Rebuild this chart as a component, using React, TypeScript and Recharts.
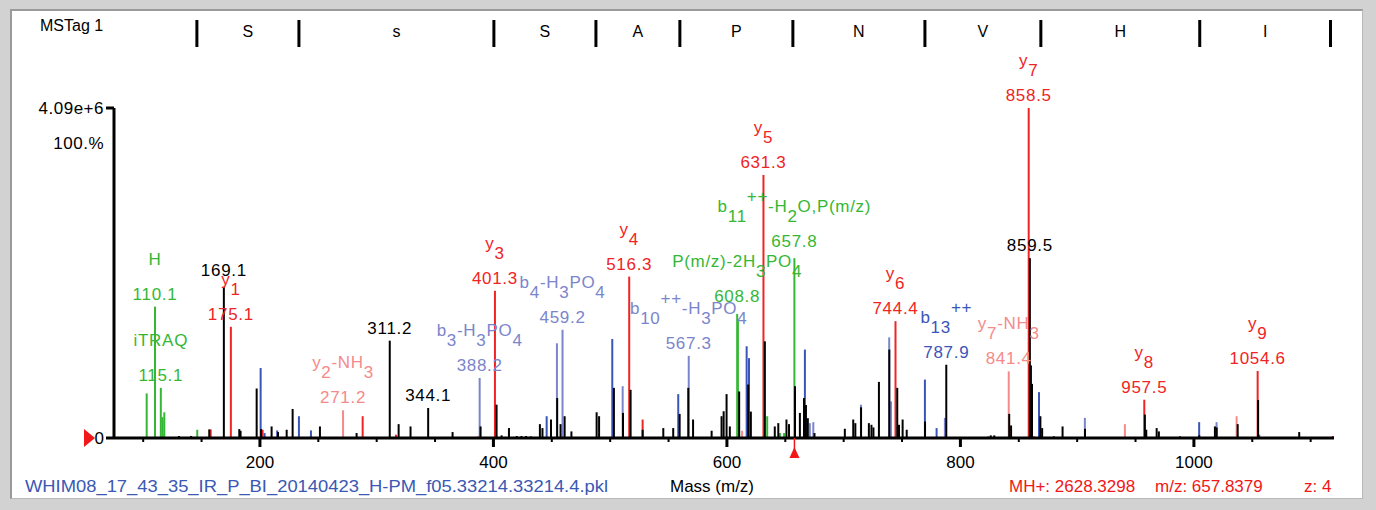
import React from "react";
import {
  ComposedChart,
  Scatter,
  XAxis,
  YAxis,
  ErrorBar,
  ReferenceDot,
} from "recharts";

const FONT = "'Liberation Sans', Arial, Helvetica, sans-serif";
const MZ_DOMAIN: [number, number] = [75, 1120];
const PRECURSOR_MZ = 657.8379;

const COLORS: Record<string, string> = {
  peak: "#000000",
  y: "#f02424",
  yNH3: "#f58a8a",
  bH3PO4: "#7b85cb",
  b: "#3a55b8",
  green: "#35b735",
};

// [m/z, relative intensity %]
const blackPeaks: [number, number][] = [
  [130.6, 0.6], [141.0, 0.6], [156.6, 2.6], [169.1, 45.8], [182.3, 2.7], [183.4, 2.2],
  [197.2, 15.0], [201.0, 2.7], [210.0, 3.5], [215.5, 1.8], [222.9, 2.5], [228.0, 8.8],
  [251.4, 3.5], [282.8, 1.5], [311.2, 29.5], [318.8, 4.2], [329.0, 3.5], [344.1, 9.1],
  [365.0, 1.8], [389.0, 3.5], [402.7, 10.1], [407.0, 0.8], [413.3, 3.0], [420.0, 0.6],
  [424.0, 0.6], [428.0, 0.6], [432.0, 0.5], [439.8, 4.2], [442.0, 3.0], [449.3, 5.6],
  [454.6, 12.1], [457.5, 4.2], [461.0, 6.6], [466.8, 2.0], [488.4, 7.8], [490.5, 6.6],
  [503.2, 15.2], [511.0, 7.6], [517.5, 14.6], [527.8, 2.5], [545.5, 3.0], [554.0, 3.0],
  [559.5, 7.3], [566.9, 15.2], [571.0, 5.6], [586.9, 2.2], [595.4, 6.6], [597.2, 8.1],
  [599.7, 13.3], [602.5, 3.5], [610.5, 14.1], [618.2, 16.2], [620.5, 8.0], [632.5, 29.3],
  [641.0, 3.5], [644.0, 4.5], [651.0, 5.6], [653.2, 4.2], [658.3, 15.7], [662.5, 7.6],
  [666.0, 12.1], [667.7, 10.0], [669.3, 6.0], [675.0, 1.5], [701.0, 2.8], [708.2, 5.6],
  [710.0, 4.5], [714.9, 9.3], [721.6, 4.5], [723.8, 4.0], [725.5, 3.2], [730.2, 17.0],
  [739.1, 26.8], [745.9, 15.2], [747.4, 4.0], [750.5, 5.6], [754.0, 2.5], [769.7, 5.0],
  [787.9, 22.2], [826.0, 0.8], [829.0, 0.8], [841.8, 7.3], [843.4, 3.8], [859.5, 54.5],
  [860.4, 22.0], [861.3, 16.4], [868.5, 6.6], [870.0, 3.0], [880.0, 0.5], [887.5, 3.5],
  [906.7, 2.8], [958.0, 7.1], [959.2, 2.5], [968.1, 3.0], [970.0, 2.0], [988.0, 0.5],
  [1004.6, 0.8], [1018.0, 3.5], [1019.5, 3.2], [1037.5, 4.2], [1055.0, 11.5], [1090.2, 1.8],
];

const yPeaks: [number, number][] = [
  [157.8, 2.6], [175.1, 33.7], [202.3, 2.5], [288.0, 6.6], [316.5, 1.0], [401.3, 44.6],
  [516.3, 48.9], [527.8, 5.6], [631.3, 79.7], [744.4, 35.4], [858.5, 100], [957.5, 11.6],
  [1054.6, 20.3], [1119.0, 0.6],
];

const yNH3Peaks: [number, number][] = [
  [271.2, 8.4], [387.0, 0.6], [613.0, 2.2], [841.4, 20.2], [863.0, 0.6], [940.9, 4.2],
  [1036.6, 6.6],
];

const bH3PO4Peaks: [number, number][] = [
  [388.2, 18.2], [454.4, 28.7], [459.2, 32.8], [510.7, 15.7], [567.3, 24.9], [671.0, 4.5],
  [674.0, 4.8], [714.8, 10.1], [739.0, 30.5], [740.5, 11.1], [786.7, 6.1], [906.6, 6.1],
  [1019.4, 4.8],
];

const bPeaks: [number, number][] = [
  [200.6, 21.2], [204.0, 1.5], [214.8, 2.3], [233.4, 6.6], [243.7, 2.3], [445.6, 6.6],
  [501.8, 30.0], [558.3, 13.3], [616.9, 27.8], [618.9, 24.2], [666.8, 26.8], [769.6, 17.7],
  [779.6, 3.0], [824.0, 0.5], [867.3, 13.9], [1004.5, 4.8], [1056.0, 1.0],
];

const greenPeaks: [number, number][] = [
  [103.0, 13.5], [110.1, 39.8], [115.1, 15.2], [116.6, 6.3], [118.1, 7.8], [146.3, 2.5],
  [608.8, 37.6], [609.4, 36.0], [634.5, 6.6], [645.4, 1.5], [649.0, 1.5], [657.8, 54.5],
];

// annotated peaks; "_" = subscript, "^" = superscript
const ionLabels = [
  { mz: 110.1, h: 39.8, kind: "green", name: ["H"], value: "110.1" },
  { mz: 115.1, h: 15.2, kind: "green", name: ["iTRAQ"], value: "115.1" },
  { mz: 169.1, h: 45.8, kind: "peak", name: [], value: "169.1" },
  { mz: 175.1, h: 33.7, kind: "y", name: ["y", "_1"], value: "175.1" },
  { mz: 271.2, h: 8.4, kind: "yNH3", name: ["y", "_2", "-NH", "_3"], value: "271.2" },
  { mz: 311.2, h: 29.5, kind: "peak", name: [], value: "311.2" },
  { mz: 344.1, h: 9.1, kind: "peak", name: [], value: "344.1" },
  { mz: 388.2, h: 18.2, kind: "bH3PO4", name: ["b", "_3", "-H", "_3", "PO", "_4"], value: "388.2" },
  { mz: 401.3, h: 44.6, kind: "y", name: ["y", "_3"], value: "401.3" },
  { mz: 459.2, h: 32.8, kind: "bH3PO4", name: ["b", "_4", "-H", "_3", "PO", "_4"], value: "459.2" },
  { mz: 516.3, h: 48.9, kind: "y", name: ["y", "_4"], value: "516.3" },
  { mz: 567.3, h: 24.9, kind: "bH3PO4", name: ["b", "_10", "^++", "-H", "_3", "PO", "_4"], value: "567.3" },
  { mz: 608.8, h: 37.6, kind: "green", name: ["P(m/z)-2H", "_3", "PO", "_4"], value: "608.8" },
  { mz: 631.3, h: 79.7, kind: "y", name: ["y", "_5"], value: "631.3" },
  { mz: 657.8, h: 54.5, kind: "green", name: ["b", "_11", "^++", "-H", "_2", "O,P(m/z)"], value: "657.8" },
  { mz: 744.4, h: 35.4, kind: "y", name: ["y", "_6"], value: "744.4" },
  { mz: 787.9, h: 22.2, kind: "b", name: ["b", "_13", "^++"], value: "787.9" },
  { mz: 841.4, h: 20.2, kind: "yNH3", name: ["y", "_7", "-NH", "_3"], value: "841.4" },
  { mz: 858.5, h: 100, kind: "y", name: ["y", "_7"], value: "858.5" },
  { mz: 859.5, h: 54.5, kind: "peak", name: [], value: "859.5" },
  { mz: 957.5, h: 11.6, kind: "y", name: ["y", "_8"], value: "957.5" },
  { mz: 1054.6, h: 20.3, kind: "y", name: ["y", "_9"], value: "1054.6" },
];

// extra lift (px) for crowded labels
const labelLift: Record<string, number> = { "169.1": 4, "608.8": 5, "657.8": 4 };

// fragment ladder along the top
const ladderMz = [146, 233.4, 400.4, 487.8, 559.7, 656.5, 769.6, 868.9, 1005, 1117];
const ladderResidues = ["S", "s", "S", "A", "P", "N", "V", "H", "I"];

const xTicks = Array.from({ length: 21 }, (_, i) => 100 + i * 50);

const sticks = (peaks: [number, number][]) =>
  peaks.map(([mz, h]) => ({ mz, h, err: [h, 0] }));

const stickSeries = [
  { kind: "bH3PO4", data: sticks(bH3PO4Peaks) },
  { kind: "b", data: sticks(bPeaks) },
  { kind: "yNH3", data: sticks(yNH3Peaks) },
  { kind: "green", data: sticks(greenPeaks) },
  { kind: "y", data: sticks(yPeaks) },
  { kind: "peak", data: sticks(blackPeaks) },
];

const ladderData = ladderMz.map((mz) => ({ mz, y: 0.5 }));
const residueData = ladderResidues.map((r, i) => ({
  mz: (ladderMz[i] + ladderMz[i + 1]) / 2,
  y: 0.5,
  r,
}));

const Empty = () => <g />;

const nameSpans = (parts: string[]) => {
  let level = 0;
  return parts.map((p, i) => {
    let target = 0;
    let t = p;
    if (p[0] === "_") {
      target = 10;
      t = p.slice(1);
    } else if (p[0] === "^") {
      target = -10;
      t = p.slice(1);
    }
    const dy = target - level;
    level = target;
    return (
      <tspan key={i} dy={dy}>
        {t}
      </tspan>
    );
  });
};

const PeakLabel = (props: any) => {
  const { cx, cy, payload } = props;
  const color = COLORS[payload.kind];
  const lift = labelLift[payload.value] || 0;
  return (
    <g fontFamily={FONT} fontSize={17} fill={color} letterSpacing={0.7}>
      {payload.name.length > 0 && (
        <text x={cx} y={cy - 42 - lift} textAnchor="middle">
          {nameSpans(payload.name)}
        </text>
      )}
      <text x={cx} y={cy - 7 - lift} textAnchor="middle">
        {payload.value}
      </text>
    </g>
  );
};

const XTick = (props: any) => {
  const { x, y, payload } = props;
  const major = payload.value % 200 === 0;
  return (
    <g>
      <line x1={x} y1={y} x2={x} y2={y + (major ? 9 : 4)} stroke="#000" strokeWidth={major ? 3 : 2} />
      {major && (
        <text x={x} y={y + 30} textAnchor="middle" fontSize={17} fontFamily={FONT} fill="#000">
          {payload.value}
        </text>
      )}
    </g>
  );
};

const YTick = (props: any) => {
  const { x, y, payload } = props;
  if (payload.value === 100) {
    return (
      <g fontSize={17} fontFamily={FONT} fill="#000" letterSpacing={0.5}>
        <line x1={x - 8} y1={y} x2={x} y2={y} stroke="#000" strokeWidth={3} />
        <text x={x - 10} y={y + 6} textAnchor="end">4.09e+6</text>
        <text x={x - 10} y={y + 41} textAnchor="end">100.%</text>
      </g>
    );
  }
  return (
    <g fontSize={17} fontFamily={FONT} fill="#000">
      <line x1={x - 8} y1={y} x2={x} y2={y} stroke="#000" strokeWidth={3} />
      <text x={x - 10} y={y + 6} textAnchor="end">0</text>
      <polygon points={`${x - 30},${y - 9} ${x - 30},${y + 9} ${x - 19},${y}`} fill="#f01818" />
    </g>
  );
};

const PrecursorMark = (props: any) => {
  const { cx, cy } = props;
  return (
    <g>
      <line x1={cx} y1={cy} x2={cx} y2={cy + 12} stroke="#f01818" strokeWidth={1.5} />
      <polygon points={`${cx - 5},${cy + 20} ${cx + 5},${cy + 20} ${cx},${cy + 9}`} fill="#f01818" />
    </g>
  );
};

const LadderBar = (props: any) => {
  const { cx, cy } = props;
  return <line x1={cx} y1={cy - 13} x2={cx} y2={cy + 14} stroke="#000" strokeWidth={3} />;
};

const ResidueLetter = (props: any) => {
  const { cx, cy, payload } = props;
  return (
    <text x={cx} y={cy + 4} textAnchor="middle" fontSize={16} fontFamily={FONT} fill="#000">
      {payload.r}
    </text>
  );
};

export default function App() {
  return (
    <div
      style={{
        position: "absolute",
        left: 0,
        top: 0,
        width: 1376,
        height: 510,
        background: "#d2d2d2",
        overflow: "hidden",
        fontFamily: FONT,
      }}
    >
      <div
        style={{
          position: "absolute",
          left: 10,
          top: 9,
          width: 1353,
          height: 490,
          boxSizing: "border-box",
          background: "#fff",
          borderTop: "2px solid #9a9a9a",
          borderLeft: "2px solid #9a9a9a",
          borderRight: "1px solid #b8b8b8",
          borderBottom: "1px solid #b8b8b8",
        }}
      />
      <div style={{ position: "absolute", left: 0, top: 8 }}>
        <ComposedChart width={1376} height={50} margin={{ top: 0, right: 42, bottom: 0, left: 114 }}>
          <XAxis type="number" dataKey="mz" domain={MZ_DOMAIN} hide />
          <YAxis type="number" dataKey="y" domain={[0, 1]} hide />
          <Scatter data={ladderData} shape={LadderBar} isAnimationActive={false} />
          <Scatter data={residueData} shape={ResidueLetter} isAnimationActive={false} />
        </ComposedChart>
      </div>
      <div style={{ position: "absolute", left: 0, top: 0 }}>
        <ComposedChart width={1376} height={510} margin={{ top: 108, right: 42, bottom: 0, left: 113 }}>
          <XAxis
            type="number"
            dataKey="mz"
            domain={MZ_DOMAIN}
            ticks={xTicks}
            interval={0}
            height={72}
            tickSize={0}
            tickMargin={0}
            tickLine={false}
            tick={XTick}
            axisLine={{ stroke: "#000", strokeWidth: 3 }}
          />
          <YAxis
            type="number"
            dataKey="h"
            domain={[0, 100]}
            ticks={[0, 100]}
            interval={0}
            width={1}
            tickSize={0}
            tickMargin={0}
            tickLine={false}
            tick={YTick}
            axisLine={{ stroke: "#000", strokeWidth: 3 }}
          />
          {stickSeries.map((s) => (
            <Scatter key={s.kind} data={s.data} shape={Empty} isAnimationActive={false}>
              <ErrorBar
                dataKey="err"
                direction="y"
                width={0}
                stroke={COLORS[s.kind]}
                strokeWidth={2}
                isAnimationActive={false}
              />
            </Scatter>
          ))}
          <ReferenceDot x={PRECURSOR_MZ} y={0} shape={PrecursorMark} />
          <Scatter data={ionLabels} shape={PeakLabel} isAnimationActive={false} />
        </ComposedChart>
      </div>
      <svg
        width={1376}
        height={510}
        style={{ position: "absolute", left: 0, top: 0, pointerEvents: "none" }}
        fontFamily={FONT}
        fontSize={17}
      >
        <text x={40} y={31} fill="#000" fontSize={16}>MSTag 1</text>
        <text x={25} y={492} fill="#3a58b4" textLength={583} lengthAdjust="spacingAndGlyphs">
          WHIM08_17_43_35_IR_P_BI_20140423_H-PM_f05.33214.33214.4.pkl
        </text>
        <text x={712} y={492} fill="#000" textAnchor="middle">Mass (m/z)</text>
        <text x={1009} y={492} fill="#f01818">MH+: 2628.3298</text>
        <text x={1155} y={492} fill="#f01818">m/z: 657.8379</text>
        <text x={1304} y={492} fill="#f01818">z: 4</text>
      </svg>
    </div>
  );
}
